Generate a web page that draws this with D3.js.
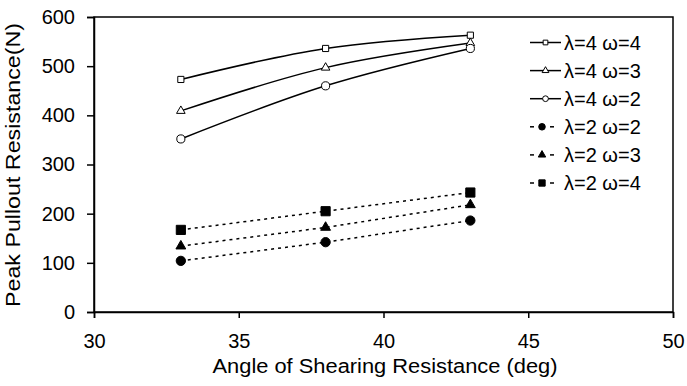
<!DOCTYPE html>
<html><head><meta charset="utf-8">
<script src="https://cdn.jsdelivr.net/npm/d3@7"></script>
<style>body{margin:0;background:#fff}svg{display:block}text{font-family:Arial,"Liberation Sans",sans-serif;fill:#000}</style>
</head><body><svg id="c" width="687" height="386"></svg>
<script>
const angles = [33, 38, 43];
const seriesNames = ["λ=4 ω=4","λ=4 ω=3","λ=4 ω=2","λ=2 ω=2","λ=2 ω=3","λ=2 ω=4"];
const l4w4 = [473, 536, 563];
const l4w3 = [409, 497, 547];
const l4w2 = [352, 460, 536];
const l2w2 = [104, 142, 186];
const l2w3 = [134, 172, 218];
const l2w4 = [167, 205, 243];
const xTicks = [30, 35, 40, 45, 50];
const yTicks = [0, 100, 200, 300, 400, 500, 600];

const series = [
  {name: seriesNames[0], v: l4w4, sym: d3.symbolSquare, fill: "#fff", dashed: false, size: 38, lsize: 22},
  {name: seriesNames[1], v: l4w3, sym: d3.symbolTriangle, fill: "#fff", dashed: false, size: 32, lsize: 20},
  {name: seriesNames[2], v: l4w2, sym: d3.symbolCircle, fill: "#fff", dashed: false, size: 52, lsize: 26},
  {name: seriesNames[3], v: l2w2, sym: d3.symbolCircle, fill: "#000", dashed: true, size: 68, lsize: 34},
  {name: seriesNames[4], v: l2w3, sym: d3.symbolTriangle, fill: "#000", dashed: true, size: 42, lsize: 24},
  {name: seriesNames[5], v: l2w4, sym: d3.symbolSquare, fill: "#000", dashed: true, size: 84, lsize: 40}
];

const svg = d3.select("#c");
const L = 94, R = 673, T = 17, B = 312;
const x = d3.scaleLinear().domain([30, 50]).range([L, R]);
const y = d3.scaleLinear().domain([0, 600]).range([B, T]);

svg.append("rect").attr("x", L).attr("y", T).attr("width", R - L).attr("height", B - T)
  .attr("fill", "none").attr("stroke", "#000").attr("stroke-width", 1.5);

const xa = svg.append("g").attr("transform", `translate(0,${B})`)
  .call(d3.axisBottom(x).tickValues(xTicks).tickSize(6).tickPadding(16).tickFormat(d3.format("d")));
const ya = svg.append("g").attr("transform", `translate(${L},0)`)
  .call(d3.axisLeft(y).tickValues(yTicks).tickSize(7).tickPadding(12).tickFormat(d3.format("d")));
[xa, ya].forEach(a => {
  a.select(".domain").attr("stroke", "#000").attr("stroke-width", 1.5);
  a.selectAll(".tick line").attr("stroke", "#000").attr("stroke-width", 1.5);
  a.selectAll("text").style("font-size", "20px").style("font-family", "Arial, 'Liberation Sans', sans-serif").attr("fill", "#000");
});

svg.append("text").attr("x", 385).attr("y", 373).attr("text-anchor", "middle")
  .attr("textLength", 345).attr("lengthAdjust", "spacingAndGlyphs")
  .style("font-size", "20px").text("Angle of Shearing Resistance (deg)");
svg.append("text").attr("transform", "translate(20,165) rotate(-90)").attr("text-anchor", "middle")
  .attr("textLength", 284).attr("lengthAdjust", "spacingAndGlyphs")
  .style("font-size", "20px").text("Peak Pullout Resistance(N)");

const smooth = d3.line().x((d, i) => x(angles[i])).y(d => y(d)).curve(d3.curveCatmullRom.alpha(0.5));
const straight = d3.line().x((d, i) => x(angles[i])).y(d => y(d));

series.forEach(s => {
  svg.append("path").attr("d", (s.dashed ? straight : smooth)(s.v))
    .attr("fill", "none").attr("stroke", "#000").attr("stroke-width", 1.5)
    .attr("stroke-dasharray", s.dashed ? "3,4" : null);
});
series.forEach(s => {
  svg.selectAll(null).data(s.v).enter().append("path")
    .attr("transform", (d, i) => `translate(${x(angles[i])},${y(d)})`)
    .attr("d", d3.symbol().type(s.sym).size(s.size))
    .attr("fill", s.fill).attr("stroke", "#000").attr("stroke-width", 1);
});

const lg = svg.append("g");
series.forEach((s, i) => {
  const yy = 42.5 + i * 28.1;
  if (s.dashed) {
    lg.append("line").attr("x1", 530).attr("x2", 534).attr("y1", yy).attr("y2", yy).attr("stroke", "#000").attr("stroke-width", 1.5);
    lg.append("line").attr("x1", 550).attr("x2", 554).attr("y1", yy).attr("y2", yy).attr("stroke", "#000").attr("stroke-width", 1.5);
  } else {
    lg.append("line").attr("x1", 530).attr("x2", 561).attr("y1", yy).attr("y2", yy).attr("stroke", "#000").attr("stroke-width", 1.5);
  }
  lg.append("path").attr("transform", `translate(${s.dashed ? 542 : 545.5},${yy})`)
    .attr("d", d3.symbol().type(s.sym).size(s.lsize))
    .attr("fill", s.fill).attr("stroke", "#000").attr("stroke-width", 1);
  lg.append("text").attr("x", 564).attr("y", yy + 7).style("font-size", "20px").text(s.name);
});
</script></body></html>
